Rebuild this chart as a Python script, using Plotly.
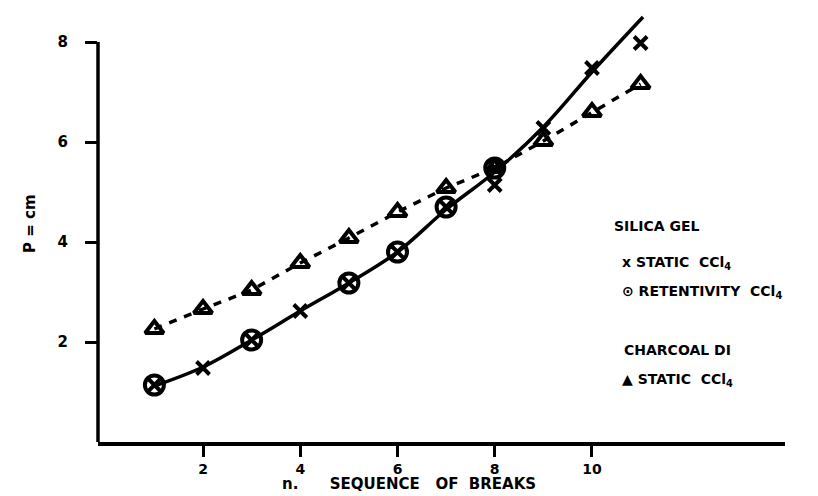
import plotly.graph_objects as go

# Break sequence numbers
breaks = [1, 2, 3, 4, 5, 6, 7, 8, 9, 10, 11]

# Charcoal DI, static CCl4 (triangles, dashed)
charcoal_static = [2.26, 2.66, 3.04, 3.58, 4.08, 4.60, 5.08, 5.48, 6.02, 6.60, 7.16]

# Silica gel, retentivity CCl4 (circles)
retent_x = [1, 3, 5, 6, 7, 8]
retent_y = [1.14, 2.04, 3.18, 3.80, 4.70, 5.48]

# Silica gel, static CCl4 (crosses)
silica_x = [2, 4, 8, 9, 10, 11]
silica_y = [1.48, 2.62, 5.14, 6.28, 7.48, 7.98]

# Smooth curve drawn through the silica gel points
curve_x = [1, 2, 3, 4, 5, 6, 7, 8, 9, 10, 11.05]
curve_y = [1.12, 1.50, 2.04, 2.62, 3.18, 3.80, 4.65, 5.40, 6.30, 7.40, 8.50]

x_ticks = [2, 4, 6, 8, 10]
y_ticks = [2, 4, 6, 8]

FONT = "DejaVu Sans"
INK = "#000000"

fig = go.Figure()

fig.add_trace(go.Scatter(
    x=curve_x, y=curve_y, mode="lines",
    line=dict(color=INK, width=3.5, shape="spline", smoothing=1.0),
    hoverinfo="skip",
))

fig.add_trace(go.Scatter(
    x=breaks, y=charcoal_static, mode="lines+markers",
    line=dict(color=INK, width=3.5, dash="8px,8px"),
    marker=dict(symbol="triangle-up-open", size=16, color=INK,
                line=dict(color=INK, width=4)),
))

fig.add_trace(go.Scatter(
    x=retent_x, y=retent_y, mode="markers",
    marker=dict(symbol="circle-x-open", size=19, color=INK,
                line=dict(color=INK, width=4)),
))

fig.add_trace(go.Scatter(
    x=silica_x, y=silica_y, mode="markers",
    marker=dict(symbol="x-thin-open", size=13, color=INK,
                line=dict(color=INK, width=4)),
))

# Vertical axis line, stopping at the top tick
fig.add_shape(type="line", xref="paper", yref="y",
              x0=0, x1=0, y0=0, y1=8,
              line=dict(color=INK, width=3.5))

legend_lines = [
    ("<b>SILICA GEL</b>", 612, 226),
    ("<b>x STATIC  CCl<sub>4</sub></b>", 620, 263),
    ("<b>⊙ RETENTIVITY  CCl<sub>4</sub></b>", 620, 292),
    ("<b>CHARCOAL DI</b>", 622, 350),
    ("<b>▲ STATIC  CCl<sub>4</sub></b>", 620, 380),
]
for text, px, py in legend_lines:
    fig.add_annotation(
        text=text, xref="paper", yref="paper",
        x=(px - 98) / 687, y=(442 - py) / 440,
        xanchor="left", yanchor="middle", showarrow=False,
        font=dict(family=FONT, size=14, color=INK),
    )

# Rotated y-axis title
fig.add_annotation(
    text="<b>P = cm</b>", xref="paper", yref="paper",
    x=(30 - 98) / 687, y=(442 - 224) / 440,
    xanchor="center", yanchor="middle", showarrow=False, textangle=-90,
    font=dict(family=FONT, size=15, color=INK),
)

# x-axis title, set slightly left of the plot centre
fig.add_annotation(
    text="<b>n.      SEQUENCE   OF  BREAKS</b>", xref="paper", yref="paper",
    x=(280 - 98) / 687, y=(442 - 484) / 440,
    xanchor="left", yanchor="middle", showarrow=False,
    font=dict(family=FONT, size=15, color=INK),
)

fig.update_layout(
    width=818, height=496,
    margin=dict(l=98, r=33, t=2, b=54),
    paper_bgcolor="white", plot_bgcolor="white",
    showlegend=False,
    xaxis=dict(
        range=[-0.16, 13.97], tickvals=x_ticks,
        ticktext=[f"<b>{v}</b>" for v in x_ticks],
        showgrid=False, zeroline=False,
        showline=True, linecolor=INK, linewidth=3.5,
        ticks="outside", ticklen=11, tickwidth=3, tickcolor=INK,
        tickfont=dict(family=FONT, size=14, color=INK),
    ),
    yaxis=dict(
        range=[0, 8.8], tickvals=y_ticks,
        ticktext=[f"<b>{v}</b>" for v in y_ticks],
        showgrid=False, zeroline=False, showline=False,
        ticks="outside", ticklen=12, tickwidth=3, tickcolor=INK,
        ticklabelstandoff=14,
        tickfont=dict(family=FONT, size=15, color=INK),
    ),
)

fig.write_html("out.html")
